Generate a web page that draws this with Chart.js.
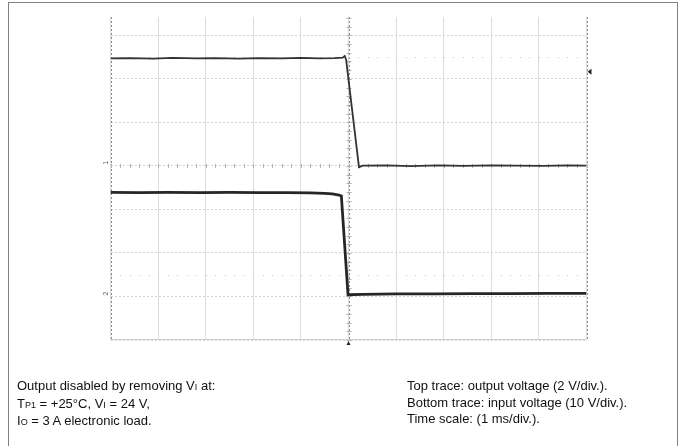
<!DOCTYPE html>
<html>
<head>
<meta charset="utf-8">
<script src="https://cdn.jsdelivr.net/npm/chart.js@4.4.0/dist/chart.umd.min.js"></script>
<style>
  html, body { margin: 0; padding: 0; background: #fff; }
  body { width: 683px; height: 446px; position: relative; overflow: hidden; font-family: "Liberation Sans", Arial, sans-serif; }
  #frame { position: absolute; left: 8px; top: 2px; width: 668px; height: 470px; border: 1px solid #808080; }
  #wrap { position: absolute; left: 0; top: 0; width: 683px; height: 446px; }
  .note { position: absolute; top: 378px; font-size: 13px; line-height: 16.5px; color: #111; white-space: nowrap; }
  .s { font-size: 9px; }
</style>
</head>
<body>
<div id="frame"></div>
<div id="wrap"><canvas id="scope"></canvas></div>
<div class="note" style="left:17px">
  Output disabled by removing V<span class="s">I</span> at:<br>
  T<span class="s">P1</span> = +25°C, V<span class="s">I</span> = 24 V,<br>
  I<span class="s">O</span> = 3 A electronic load.
</div>
<div class="note" style="left:407px">
  Top trace: output voltage (2 V/div.).<br>
  Bottom trace: input voltage (10 V/div.).<br>
  Time scale: (1 ms/div.).
</div>
<script>
// time in ms, 0 = trigger point (centre of screen), 1 ms/div
const timeOut  = [-5, -4.6, -4.1, -3.7, -3.2, -2.8, -2.3, -1.9, -1.4, -1.0, -0.6, -0.3, -0.12, -0.08, -0.05, 0.22, 0.3, 0.8, 1.3, 1.9, 2.4, 3.0, 3.5, 4.1, 4.6, 5];
// output voltage, V (2 V/div)
const voltsOut = [4.94, 4.95, 4.93, 4.96, 4.94, 4.95, 4.93, 4.95, 4.94, 4.96, 4.94, 4.95, 4.97, 5.05, 4.88, -0.06, 0.01, 0.02, -0.01, 0.02, 0.0, 0.02, 0.01, 0.0, 0.02, 0.01];

const timeIn  = [-5, -4.4, -3.8, -3.1, -2.5, -1.9, -1.3, -0.8, -0.5, -0.34, -0.2, -0.15, -0.01, 0.3, 1.0, 1.8, 2.6, 3.4, 4.2, 5];
// input voltage, V (10 V/div)
const voltsIn = [23.9, 23.85, 23.9, 23.85, 23.9, 23.85, 23.85, 23.8, 23.7, 23.55, 23.3, 23.1, 0.4, 0.5, 0.6, 0.6, 0.65, 0.65, 0.7, 0.7];

// screen limits (divisions shown)
const timeRange = [-5, 5];
const outRange = [-8, 6.84];   // ch1 ground on centre line
const inRange = [-10, 64.2];   // ch2 ground 3 div below centre
const trigLevel = 4.33;

const graticule = {
  id: 'graticule',
  beforeDatasetsDraw(chart) {
    const { ctx, chartArea: a, scales: { x, yOut } } = chart;
    const cx = x.getPixelForValue(0);
    const cy = yOut.getPixelForValue(0);
    ctx.save();
    ctx.lineWidth = 1;
    // bottom edge solid
    ctx.strokeStyle = '#d0d0d0';
    ctx.beginPath();
    ctx.moveTo(a.left, Math.round(a.bottom) - 0.5);
    ctx.lineTo(a.right, Math.round(a.bottom) - 0.5);
    ctx.stroke();
    // edges and vertical centre line
    ctx.strokeStyle = '#8c8c8c';
    ctx.setLineDash([2, 2]);
    [a.left, cx, a.right].forEach(px => {
      ctx.beginPath();
      ctx.moveTo(Math.round(px) + 0.5, a.top);
      ctx.lineTo(Math.round(px) + 0.5, a.bottom);
      ctx.stroke();
    });
    ctx.setLineDash([]);
    // minor ticks on centre lines
    ctx.strokeStyle = '#b0b0b0';
    ctx.beginPath();
    for (let i = -25; i <= 25; i++) {
      const px = Math.round(x.getPixelForValue(i / 5)) + 0.5;
      ctx.moveTo(px, cy - 2);
      ctx.lineTo(px, cy + 2);
    }
    for (let i = -20; i <= 17; i++) {
      const py = Math.round(yOut.getPixelForValue(i * 0.4)) + 0.5;
      ctx.moveTo(cx - 2, py);
      ctx.lineTo(cx + 3, py);
    }
    ctx.stroke();
    // dotted rows at +/-2.5 div
    ctx.fillStyle = '#c4c4c4';
    [5, -5].forEach(v => {
      const py = Math.round(yOut.getPixelForValue(v));
      for (let i = -25; i <= 25; i++) {
        ctx.fillRect(Math.round(x.getPixelForValue(i / 5)), py, 1, 1);
      }
    });
    ctx.restore();
  },
  afterDraw(chart) {
    const { ctx, chartArea: a, scales: { x, yOut, yIn } } = chart;
    const cx = x.getPixelForValue(0);
    ctx.save();
    ctx.fillStyle = '#222';
    // trigger level
    const ty = yOut.getPixelForValue(trigLevel);
    ctx.beginPath();
    ctx.moveTo(a.right + 1, ty);
    ctx.lineTo(a.right + 5, ty - 3);
    ctx.lineTo(a.right + 5, ty + 3);
    ctx.fill();
    // trigger position
    ctx.beginPath();
    ctx.moveTo(cx, a.bottom + 1);
    ctx.lineTo(cx - 2, a.bottom + 5);
    ctx.lineTo(cx + 2, a.bottom + 5);
    ctx.fill();
    // channel ground markers
    ctx.fillStyle = '#666';
    ctx.font = '7px "Liberation Sans", Arial, sans-serif';
    ctx.textAlign = 'center';
    ctx.textBaseline = 'middle';
    [['1', yOut.getPixelForValue(0)], ['2', yIn.getPixelForValue(0)]].forEach(([t, py]) => {
      ctx.save();
      ctx.translate(a.left - 4, py - 3);
      ctx.rotate(-Math.PI / 2);
      ctx.fillText(t, 0, 0);
      ctx.restore();
    });
    ctx.restore();
  }
};

new Chart(document.getElementById('scope'), {
  type: 'line',
  data: {
    datasets: [{
      label: 'Output voltage',
      data: timeOut.map((t, i) => ({ x: t, y: voltsOut[i] })),
      yAxisID: 'yOut',
      borderColor: '#333',
      borderWidth: 1.8,
      pointRadius: 0,
      tension: 0
    }, {
      label: 'Input voltage',
      data: timeIn.map((t, i) => ({ x: t, y: voltsIn[i] })),
      yAxisID: 'yIn',
      borderColor: '#262626',
      borderWidth: 2.8,
      pointRadius: 0,
      tension: 0
    }]
  },
  options: {
    responsive: true,
    maintainAspectRatio: false,
    animation: false,
    layout: { padding: { left: 110.5, right: 96.5, top: 17, bottom: 106 } },
    plugins: { legend: { display: false }, tooltip: { enabled: false } },
    scales: {
      x: {
        type: 'linear',
        min: timeRange[0],
        max: timeRange[1],
        ticks: { display: false, stepSize: 1 },
        grid: { color: '#dcdcdc', drawTicks: false },
        border: { display: false }
      },
      yOut: {
        position: 'left',
        min: outRange[0],
        max: outRange[1],
        ticks: { display: false, stepSize: 2, includeBounds: false },
        grid: { color: '#d2d2d2', drawTicks: false },
        border: { display: false, dash: [2, 2] }
      },
      yIn: {
        position: 'right',
        display: false,
        min: inRange[0],
        max: inRange[1]
      }
    }
  },
  plugins: [graticule]
});
</script>
</body>
</html>
